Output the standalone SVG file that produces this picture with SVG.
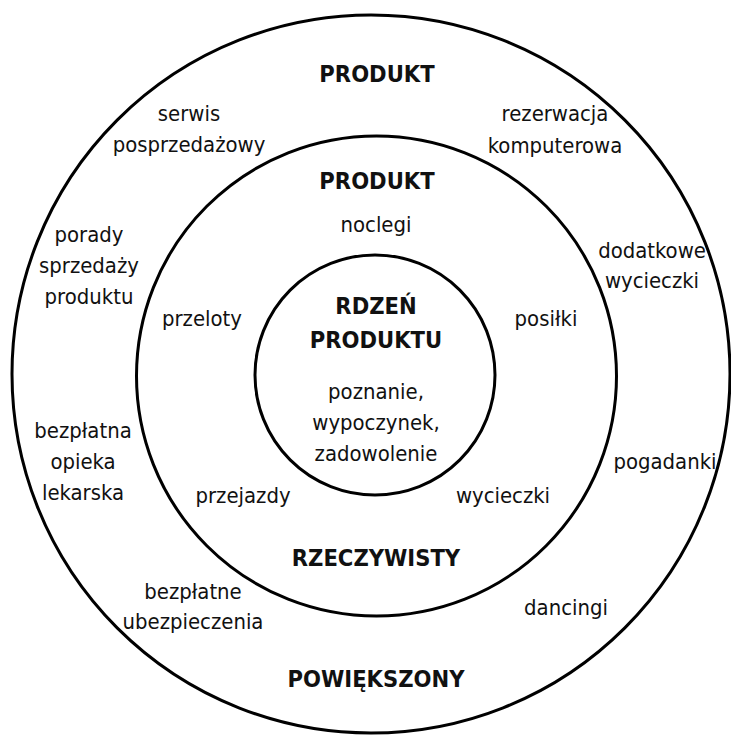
<svg xmlns="http://www.w3.org/2000/svg" width="731" height="735" viewBox="0 0 731 735">
<style>
.c{fill:none;stroke:#000;stroke-width:3}
text{font-family:"DejaVu Sans Condensed","DejaVu Sans",sans-serif;font-stretch:condensed;text-anchor:middle;fill:#111}
.r{font-size:21.9px}
.b{font-size:23.5px;font-weight:bold}
</style>
<rect width="731" height="735" fill="#fff"/>
<g id="outer">
<circle class="c" cx="371" cy="374" r="359"/>
<text class="b" x="377" y="82">PRODUKT</text>
<text class="r" x="189" y="121">serwis</text>
<text class="r" x="189" y="152">posprzedażowy</text>
<text class="r" x="555" y="121">rezerwacja</text>
<text class="r" x="555" y="153">komputerowa</text>
<text class="r" x="89" y="242">porady</text>
<text class="r" x="89" y="273">sprzedaży</text>
<text class="r" x="89" y="304">produktu</text>
<text class="r" x="652" y="258">dodatkowe</text>
<text class="r" x="652" y="288">wycieczki</text>
<text class="r" x="83" y="438">bezpłatna</text>
<text class="r" x="83" y="469">opieka</text>
<text class="r" x="83" y="500">lekarska</text>
<text class="r" x="665" y="469">pogadanki</text>
<text class="r" x="193" y="599">bezpłatne</text>
<text class="r" x="193" y="629">ubezpieczenia</text>
<text class="r" x="566" y="615">dancingi</text>
<text class="b" x="376" y="687">POWIĘKSZONY</text>
</g>
<g id="middle">
<circle class="c" cx="376.5" cy="376" r="240"/>
<text class="b" x="377" y="189">PRODUKT</text>
<text class="r" x="376" y="232">noclegi</text>
<text class="r" x="202" y="326">przeloty</text>
<text class="r" x="546" y="326">posiłki</text>
<text class="r" x="243" y="503">przejazdy</text>
<text class="r" x="503" y="503">wycieczki</text>
<text class="b" x="376" y="566">RZECZYWISTY</text>
</g>
<g id="inner">
<circle class="c" cx="375" cy="375" r="120"/>
<text class="b" x="376" y="314">RDZEŃ</text>
<text class="b" x="376" y="348">PRODUKTU</text>
<text class="r" x="376" y="399">poznanie,</text>
<text class="r" x="376" y="430">wypoczynek,</text>
<text class="r" x="376" y="461">zadowolenie</text>
</g>
<g id="connectors"/>
</svg>
